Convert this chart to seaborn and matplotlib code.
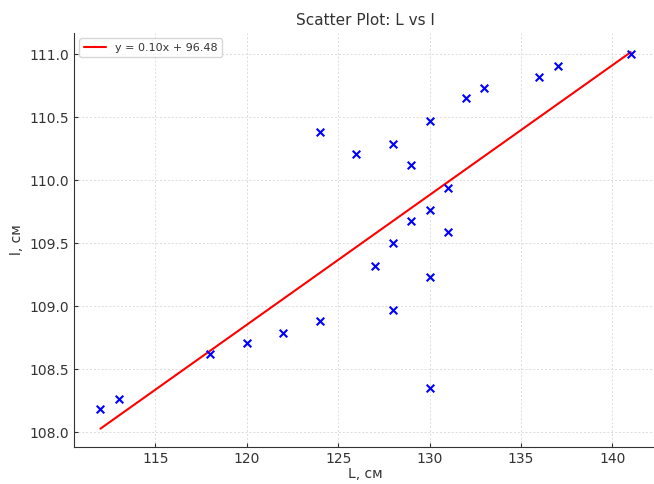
import numpy as np
import pandas as pd
import matplotlib
matplotlib.use("Agg")
import matplotlib.pyplot as plt
import seaborn as sns

# ================================
# DATA
# ================================
L_values = [112, 113, 118, 120, 122, 124, 124, 126, 127, 128, 128, 128, 129,
            129, 130, 130, 130, 130, 131, 131, 132, 133, 136, 137, 141]
l_values = [108.18, 108.26, 108.62, 108.71, 108.79, 108.88, 110.38, 110.21,
            109.32, 110.29, 109.50, 108.97, 110.12, 109.68, 110.47, 109.76,
            109.23, 108.35, 109.94, 109.59, 110.65, 110.73, 110.82, 110.91,
            111.00]
slope = 0.1031
intercept = 96.48

df = pd.DataFrame({"L": L_values, "l": l_values})

# ================================
# STYLE
# ================================
sns.set_style("whitegrid", {
    "grid.color": "#dcdcdc",
    "grid.linestyle": (0, (2, 2)),
    "axes.edgecolor": "#333333",
    "xtick.bottom": True,
    "ytick.left": True,
})
plt.rcParams["font.family"] = ["DejaVu Sans"]
plt.rcParams["grid.linewidth"] = 0.7
text_color = "#333333"

fig = plt.figure(figsize=(6.54, 4.84), dpi=100)
ax = fig.add_axes([0.113, 0.076, 0.892, 0.856])

# ================================
# PLOT
# ================================
sns.scatterplot(data=df, x="L", y="l", marker="x", color="blue", s=30,
                linewidth=1.5, ax=ax, zorder=3)

L_fit = np.array([min(L_values), max(L_values)])
sns.lineplot(x=L_fit, y=slope * L_fit + intercept, color="red", linewidth=1.5,
             label=f"y = {slope:.2f}x + {intercept:.2f}", ax=ax, zorder=2)

ax.set_xlim(110.55, 142.45)
ax.set_ylim(107.88, 111.17)
ax.set_xticks([115, 120, 125, 130, 135, 140])
ax.set_yticks([108.0, 108.5, 109.0, 109.5, 110.0, 110.5, 111.0])
ax.set_yticklabels([f"{v:.1f}" for v in ax.get_yticks()])

ax.spines["top"].set_visible(False)
ax.spines["right"].set_visible(False)
ax.tick_params(direction="in", length=3, labelsize=10, colors=text_color)
for lab in ax.get_xticklabels() + ax.get_yticklabels():
    lab.set_color(text_color)

ax.set_title("Scatter Plot: L vs l", fontsize=11, color=text_color)
ax.set_xlabel("L, см", fontsize=10, color=text_color, labelpad=1)
ax.set_ylabel("l, см", fontsize=10, color=text_color, labelpad=4)

leg = ax.legend(loc="upper left", fontsize=8, frameon=True)
for t in leg.get_texts():
    t.set_color(text_color)

fig.savefig("out.png", dpi=100)
